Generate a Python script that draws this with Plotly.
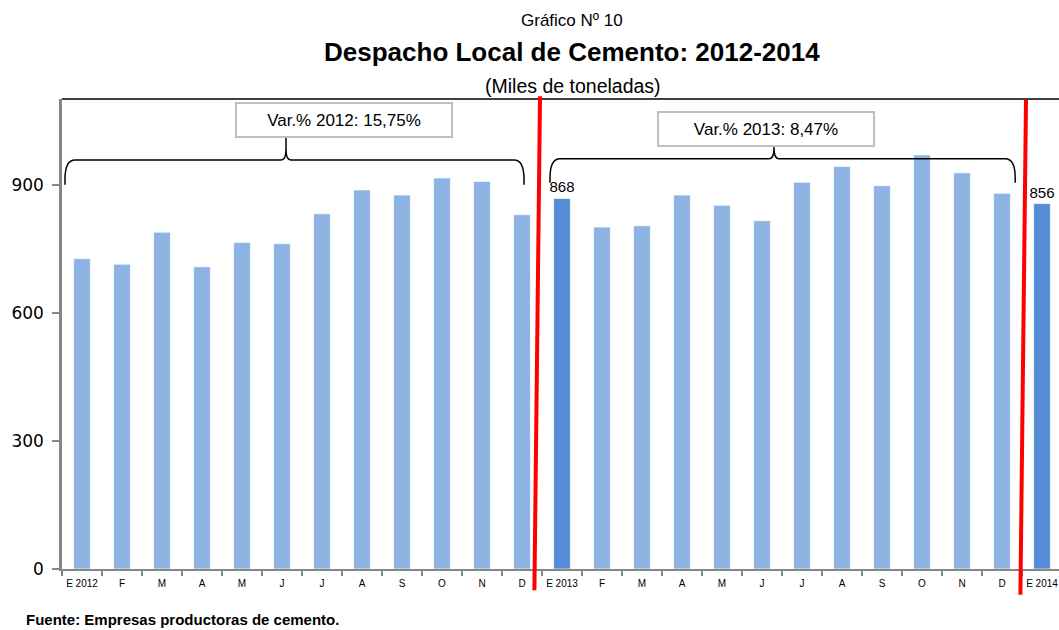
import plotly.graph_objects as go

# ---------------- data ----------------
month_labels = ["E 2012", "F", "M", "A", "M", "J", "J", "A", "S", "O", "N", "D",
                "E 2013", "F", "M", "A", "M", "J", "J", "A", "S", "O", "N", "D",
                "E 2014"]
values_2012 = [727, 714, 789, 708, 765, 762, 832, 888, 876, 916, 908, 830]
values_2013 = [868, 801, 804, 876, 852, 816, 906, 943, 898, 970, 928, 880]
values_2014 = [856]
highlight_idx = [12, 24]           # first month of each new year
var_labels = ["Var.% 2012: 15,75%", "Var.% 2013: 8,47%"]
y_ticks = [0, 300, 600, 900]

values = values_2012 + values_2013 + values_2014
n = len(values)
xs = list(range(n))

LIGHT = "#8DB3E2"
DARK = "#558ED5"
colors = [DARK if i in highlight_idx else LIGHT for i in xs]
texts = [str(v) if i in highlight_idx else "" for i, v in enumerate(values)]

SANS = "Liberation Sans, Arial, sans-serif"

X0, X1 = -0.5, 24.425
Y0, Y1 = 0, 1101


def xpaper(xd):
    return (xd - X0) / (X1 - X0)


fig = go.Figure()
fig.add_trace(go.Bar(
    x=xs, y=values, width=0.42,
    marker=dict(color=colors, line=dict(color="rgba(255,255,255,0.7)", width=1)),
    text=texts, textposition="outside", cliponaxis=False, constraintext="none",
    textfont=dict(family=SANS, size=15, color="black"),
    hoverinfo="skip",
))

shapes = []
# top border
shapes.append(dict(type="line", xref="paper", yref="paper", x0=0, x1=1, y0=1, y1=1,
                   line=dict(color="black", width=1.5)))


def brace(xa, xb, xc, ytip, ybar, ycusp):
    dx = 0.25
    dy = 45
    return (f"M {xa},{ytip} L {xa},{ybar - dy} Q {xa},{ybar} {xa + dx},{ybar} "
            f"L {xc - 0.12},{ybar} Q {xc},{ybar} {xc},{ybar + 25} L {xc},{ycusp} "
            f"M {xc},{ybar + 25} Q {xc},{ybar} {xc + 0.12},{ybar} "
            f"L {xb - dx},{ybar} Q {xb},{ybar} {xb},{ybar - dy} L {xb},{ytip}")


shapes.append(dict(type="path", xref="x", yref="y",
                   path=brace(-0.425, 11.05, 5.1, 900, 958, 1010),
                   line=dict(color="black", width=1.5)))
shapes.append(dict(type="path", xref="x", yref="y",
                   path=brace(11.7, 23.33, 17.3, 905, 961, 990),
                   line=dict(color="black", width=1.5)))

# red separators (slanted)
for (xt, yt, xb_, yb) in [(11.45, 1.006, 11.31, -0.045), (23.6, 0.998, 23.46, -0.055)]:
    shapes.append(dict(type="line", xref="paper", yref="paper",
                       x0=xpaper(xt), y0=yt, x1=xpaper(xb_), y1=yb,
                       line=dict(color="#FF0000", width=4)))

annotations = [
    dict(text="Gráfico Nº 10", xref="paper", yref="paper", x=0.5115, y=1.166,
         yanchor="middle", showarrow=False, font=dict(family=SANS, size=17, color="black")),
    dict(text="<b>Despacho Local de Cemento: 2012-2014</b>", xref="paper", yref="paper",
         x=0.5115, y=1.100, yanchor="middle", showarrow=False,
         font=dict(family=SANS, size=26, color="black")),
    dict(text="(Miles de toneladas)", xref="paper", yref="paper", x=0.5125, y=1.027,
         yanchor="middle", showarrow=False, font=dict(family=SANS, size=19.5, color="black")),
    dict(text="<b>Fuente: Empresas productoras de cemento.</b>", xref="paper", yref="paper",
         x=-0.038, y=-0.108, xanchor="left", yanchor="middle", showarrow=False,
         font=dict(family=SANS, size=15, color="black")),
    dict(text=var_labels[0], xref="x", yref="y", x=6.54, y=1052, showarrow=False,
         yanchor="middle",
         width=212, height=30, borderpad=1, bordercolor="#BFBFBF", borderwidth=2,
         font=dict(family=SANS, size=17, color="black")),
    dict(text=var_labels[1], xref="x", yref="y", x=17.1, y=1030, showarrow=False,
         yanchor="middle",
         width=212, height=30, borderpad=1, bordercolor="#BFBFBF", borderwidth=2,
         font=dict(family=SANS, size=17, color="black")),
]

fig.update_layout(
    width=1059, height=630,
    margin=dict(l=62, r=0, t=99, b=61),
    plot_bgcolor="white", paper_bgcolor="white",
    showlegend=False, bargap=0.5,
    shapes=shapes, annotations=annotations,
    xaxis=dict(range=[X0, X1], tickmode="array", tickvals=xs, ticktext=month_labels,
               ticks="", showgrid=False, zeroline=False,
               showline=True, linecolor="#868686", linewidth=2,
               ticklabelstandoff=4,
               tickfont=dict(family=SANS, size=10, color="black"),
               minor=dict(tickmode="linear", tick0=-0.5, dtick=1, ticks="outside",
                          ticklen=5, tickcolor="#868686", tickwidth=1.5, showgrid=False),
               fixedrange=True),
    yaxis=dict(range=[Y0, Y1], tickmode="array", tickvals=y_ticks,
               ticks="outside", ticklen=7, tickcolor="#868686", tickwidth=1.5,
               ticklabelstandoff=5,
               showgrid=False, zeroline=False,
               showline=True, linecolor="#868686", linewidth=2.5,
               tickfont=dict(family="DejaVu Sans, Verdana, sans-serif", size=17, color="black"),
               fixedrange=True),
)

fig.write_html("out.html", config={"displayModeBar": False},
               post_script="document.body.style.margin='0';document.body.style.overflow='hidden';")
